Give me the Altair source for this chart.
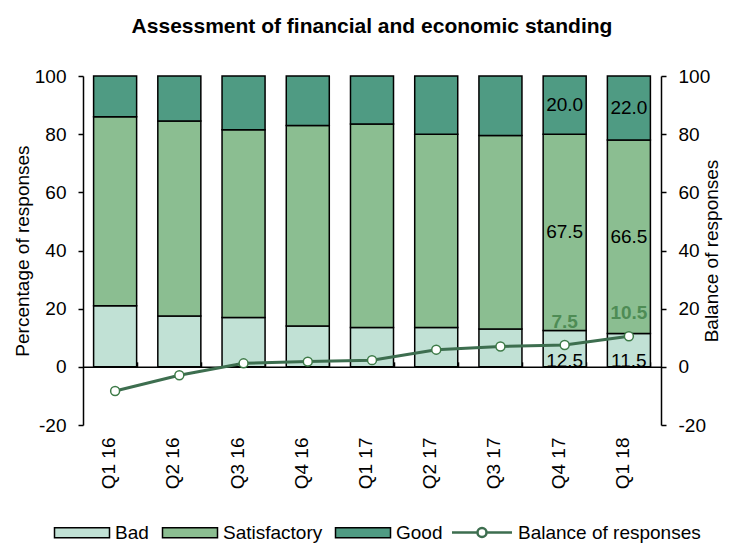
import altair as alt
import pandas as pd

quarters = ["Q1 16", "Q2 16", "Q3 16", "Q4 16", "Q1 17", "Q2 17", "Q3 17", "Q4 17", "Q1 18"]
bad = [21.0, 17.5, 17.0, 14.0, 13.5, 13.5, 13.0, 12.5, 11.5]
satisfactory = [65.0, 67.0, 64.5, 69.0, 70.0, 66.5, 66.5, 67.5, 66.5]
good = [14.0, 15.5, 18.5, 17.0, 16.5, 20.0, 20.5, 20.0, 22.0]
balance = [-8.3, -2.9, 1.2, 1.8, 2.3, 5.9, 7.0, 7.5, 10.5]
categories = ["Bad", "Satisfactory", "Good"]
cat_colors = ["#c1e1d5", "#8bbe91", "#4f9b83"]
series_name = "Balance of responses"
line_color = "#3d6e4f"
labelled_quarters = ["Q4 17", "Q1 18"]
y_ticks = [-20, 0, 20, 40, 60, 80, 100]

FONT = "Liberation Sans"
W, H = 578, 349
ZERO_OFFSET = -H * 100 / 120

rows = []
for i, q in enumerate(quarters):
    for k, (c, vals) in enumerate(zip(categories, [bad, satisfactory, good])):
        rows.append({"quarter": q, "category": c, "value": vals[i], "ord": k,
                     "show": q in labelled_quarters})
seg = pd.DataFrame(rows)
bal = pd.DataFrame({"quarter": quarters, "balance": balance, "series": series_name,
                    "show": [q in labelled_quarters for q in quarters]})

xscale = alt.Scale(domain=quarters, paddingInner=0.33, paddingOuter=0.165)
x_bottom = alt.X("quarter:N", scale=xscale, sort=quarters,
                 axis=alt.Axis(title=None, labelAngle=-90, ticks=False, domain=False,
                               labelPadding=12, labelBaseline="alphabetic", labelAlign="right"))
x_zero = alt.X("quarter:N", scale=xscale, sort=quarters,
               axis=alt.Axis(title=None, orient="top", offset=ZERO_OFFSET, labels=False,
                             tickBand="extent", tickSize=5, tickWidth=1.5, domainWidth=1.5,
                             zindex=0))

yscale_l = alt.Scale(domain=[-20, 100], nice=False, zero=False)
yscale_r = alt.Scale(domain=[-20, 100], nice=False, zero=False)
y_left_axis = alt.Axis(values=y_ticks, title="Percentage of responses", tickSize=5,
                       tickWidth=1.5, domainWidth=1.5, labelPadding=12, titlePadding=2,
                       labelExpr="'' + datum.value")
y_right_axis = alt.Axis(orient="right", values=y_ticks, title=series_name, tickSize=5,
                        tickWidth=1.5, domainWidth=1.5, labelPadding=12, titlePadding=-7,
                        titleAngle=-90, titleBaseline="top", labelExpr="'' + datum.value")

stacked = alt.Chart(seg).transform_stack(
    stack="value", groupby=["quarter"], as_=["y0", "y1"],
    sort=[alt.SortField("ord", order="ascending")]
)

bars = stacked.mark_bar(stroke="black", strokeWidth=1.5).encode(
    x=x_bottom,
    y=alt.Y("y0:Q", scale=yscale_l, axis=y_left_axis),
    y2="y1:Q",
    fill=alt.Fill("category:N", scale=alt.Scale(domain=categories, range=cat_colors),
                  legend=alt.Legend(orient="none", legendX=-10.5, legendY=447, direction="horizontal",
                                    title=None, symbolType="M-5.5,-1H5.5V1H-5.5Z",
                                    symbolSize=100, symbolStrokeColor="black",
                                    symbolStrokeWidth=1.5, labelOffset=23.5, columnPadding=10,
                                    labelFontSize=19, labelFont=FONT, labelColor="black",
                                    labelLimit=300, padding=0)),
)

mid_labels = stacked.transform_filter("datum.show && datum.category != 'Bad'").transform_calculate(
    ym="(datum.y0 + datum.y1) / 2"
).mark_text(fontSize=19, font=FONT, color="black", baseline="middle").encode(
    x=x_bottom, y=alt.Y("ym:Q", scale=yscale_l, axis=y_left_axis),
    text=alt.Text("value:Q", format=".1f"),
)
base_labels = stacked.transform_filter("datum.show && datum.category == 'Bad'").mark_text(
    fontSize=19, font=FONT, color="black", baseline="alphabetic"
).encode(
    x=x_bottom, y=alt.Y("y0:Q", scale=yscale_l, axis=y_left_axis),
    text=alt.Text("value:Q", format=".1f"),
)

left = alt.layer(bars, mid_labels, base_labels)

line = alt.Chart(bal).mark_line(strokeWidth=3).encode(
    x=x_zero,
    y=alt.Y("balance:Q", scale=yscale_r, axis=y_right_axis),
    stroke=alt.Stroke("series:N", scale=alt.Scale(domain=[series_name], range=[line_color]),
                      legend=alt.Legend(orient="none", legendX=389.5, legendY=447, title=None,
                                        symbolType="M-6,0H-0.9M0.9,0H6M-0.9,0A0.9,0.9 0 1,1 0.9,0A0.9,0.9 0 1,1 -0.9,0Z",
                                        symbolSize=100, symbolStrokeWidth=2.5,
                                        symbolFillColor="white", labelOffset=26.5,
                                        labelFontSize=19, labelFont=FONT, labelColor="black",
                                        labelLimit=300, padding=0)),
)
points = alt.Chart(bal).mark_point(shape="circle", fill="white", fillOpacity=1, opacity=1,
                                   stroke="#3d7a47", strokeWidth=1.5, size=80).encode(
    x=x_zero, y=alt.Y("balance:Q", scale=yscale_r, axis=y_right_axis),
)
bal_labels = alt.Chart(bal).transform_filter("datum.show").mark_text(
    fontSize=19, font=FONT, fontWeight="bold", color="#4e8c55", baseline="alphabetic", dy=-17
).encode(
    x=x_zero, y=alt.Y("balance:Q", scale=yscale_r, axis=y_right_axis),
    text=alt.Text("balance:Q", format=".1f"),
)

right = alt.layer(line, points, bal_labels)

chart = alt.layer(left, right).resolve_scale(y="independent").resolve_axis(
    x="independent", y="independent"
).resolve_legend(fill="independent", stroke="independent").properties(
    width=W, height=H,
    autosize=alt.AutoSizeParams(type="none"),
    padding={"left": 75, "top": 68, "right": 62, "bottom": 119},
    title=alt.TitleParams("Assessment  of financial and economic standing", fontSize=21,
                          fontWeight="bold", font=FONT, color="black", anchor="middle",
                          offset=30),
).configure_view(stroke=None).configure_axis(
    grid=False, labelFont=FONT, titleFont=FONT, labelFontSize=19, titleFontSize=19,
    labelColor="black", titleColor="black", titleFontWeight="normal",
    domainColor="black", tickColor="black",
)

chart.save("out.html", embed_options={"renderer": "svg", "actions": False})
